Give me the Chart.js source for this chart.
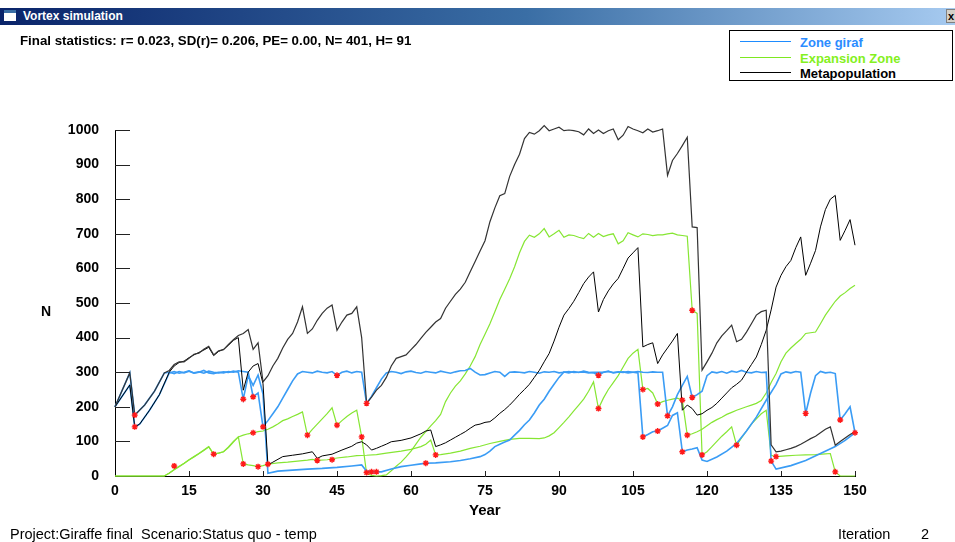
<!DOCTYPE html>
<html><head><meta charset="utf-8">
<script src="https://cdn.jsdelivr.net/npm/chart.js@4/dist/chart.umd.min.js"></script>
<style>
html,body{margin:0;padding:0;background:#fff;}
#wrap{position:relative;width:955px;height:542px;overflow:hidden;background:#fff;font-family:"Liberation Sans",Arial,sans-serif;}
canvas{position:absolute;left:0;top:0;}
.t{position:absolute;white-space:nowrap;line-height:1;}
#bar{position:absolute;left:0;top:8px;width:955px;height:17px;background:linear-gradient(to right,#0a246a 0%,#3a6ea5 55%,#a6caf0 100%);}
#icon{position:absolute;left:4px;top:10px;width:12px;height:11px;background:#fff;border-top:3px solid #3a6ea5;box-sizing:border-box;}
#close{position:absolute;left:946px;top:9px;width:12px;height:14px;background:#d4d0c8;border:1px solid #808080;box-sizing:border-box;font:bold 11px "Liberation Sans",Arial;color:#000;text-align:left;padding-left:1px;line-height:12px;}
#legend{position:absolute;left:729px;top:30px;width:224px;height:51px;border:1px solid #000;box-sizing:border-box;background:#fff;}
.ll{position:absolute;height:0;left:10px;width:51px;border-top:1px solid;}
.lt{position:absolute;left:70px;font:bold 13px "Liberation Sans",Arial;line-height:1;white-space:nowrap;}
</style></head>
<body><div id="wrap">
<canvas id="c" width="955" height="542"></canvas>
<div id="bar"></div><div id="icon"></div>
<div class="t" style="left:23px;top:10px;font:bold 12px 'Liberation Sans',Arial;color:#fff;line-height:1;">Vortex simulation</div>
<div id="close">x</div>
<div class="t" style="left:20px;top:34px;font:bold 13.3px 'Liberation Sans',Arial;color:#000;line-height:1;">Final statistics: r= 0.023, SD(r)= 0.206, PE= 0.00, N= 401, H= 91</div>
<div id="legend">
  <div class="ll" style="top:10px;border-color:#1e8cff;"></div>
  <div class="lt" style="top:5px;color:#2b8cff;">Zone giraf</div>
  <div class="ll" style="top:26px;border-color:#7ee820;"></div>
  <div class="lt" style="top:21px;color:#84f020;">Expansion Zone</div>
  <div class="ll" style="top:41px;border-color:#000;"></div>
  <div class="lt" style="top:36px;color:#000;">Metapopulation</div>
</div>
<div class="t" style="left:41px;top:303px;font:bold 14px 'Liberation Sans',Arial;">N</div>
<div class="t" style="left:469px;top:501px;font:bold 15px 'Liberation Sans',Arial;">Year</div>
<div class="t" style="left:10px;top:526px;font:14.5px 'Liberation Sans',Arial;">Project:Giraffe final&nbsp; Scenario:Status quo - temp</div>
<div class="t" style="left:838px;top:526px;font:14.5px 'Liberation Sans',Arial;">Iteration</div>
<div class="t" style="left:921px;top:526px;font:14.5px 'Liberation Sans',Arial;">2</div>
</div>
<script>
// ---- data (year, N) ----
const xTicks = [0,15,30,45,60,75,90,105,120,135,150];
const yTicks = [0,100,200,300,400,500,600,700,800,900,1000];

const metaA = [[0,200],[3,298],[4,176],[6,205],[8,245],[10,298],[11,305],[12,322],[13,330],[14,330],[15,340],[16,352],[17,355],[18,366],[19,375],[20,350],[21,362],[22,365],[23,380],[24,394],[25,406],[26,412],[27,423],[28,366],[29,385],[30,272],[31,290],[32,318],[33,340],[34,370],[35,395],[36,412],[37,445],[38,489],[39,412],[40,425],[41,450],[42,470],[43,485],[44,494],[45,421],[46,445],[47,465],[48,470],[49,489],[50,400],[51,210],[52,228],[53,248],[54,262],[55,285],[56,318],[57,340],[58,345],[59,350],[60,365],[61,380],[62,398],[63,415],[64,430],[65,445],[66,455],[67,485],[68,505],[69,525],[70,540],[71,560],[72,590],[73,620],[74,650],[75,680],[76,735],[77,775],[78,810],[79,816],[80,866],[81,900],[82,930],[83,975],[84,993],[85,988],[86,998],[87,1013],[88,998],[89,1003],[90,1008],[91,998],[92,1000],[93,998],[94,995],[95,986],[96,1003],[97,990],[98,1000],[99,990],[100,998],[101,1003],[102,972],[103,985],[104,1010],[105,1003],[106,998],[107,992],[108,1003],[109,994],[110,998],[111,1003],[112,869],[113,912],[114,932],[115,955],[116,979],[117,720],[118,718],[119,306],[120,330],[121,355],[122,385],[123,405],[124,420],[125,436],[126,388],[127,395],[128,416],[129,440],[130,465],[131,475],[132,479],[133,90],[134,70],[135,72],[136,76],[137,80],[138,85],[139,92],[140,100],[141,108],[142,115],[143,125],[144,135],[145,142],[146,89],[147,100],[148,110],[149,120],[150,128]];

const metaB = [[0,200],[3,263],[4,142],[5,150],[7,190],[9,235],[11,300],[12,318],[13,328],[14,332],[15,342],[16,350],[17,357],[18,364],[19,372],[20,348],[21,360],[22,366],[23,378],[24,392],[25,400],[26,248],[27,300],[28,318],[29,325],[30,267],[31,32],[32,40],[34,56],[36,60],[38,64],[40,70],[41,51],[42,58],[44,63],[46,75],[48,86],[49,95],[50,99],[51,90],[52,75],[53,80],[54,86],[55,92],[56,99],[58,103],[60,110],[62,122],[63,130],[64,133],[65,85],[66,90],[67,96],[68,104],[69,112],[70,120],[71,128],[72,138],[73,147],[74,150],[75,155],[76,157],[77,168],[78,181],[79,192],[80,205],[81,220],[82,236],[83,250],[84,265],[85,285],[86,305],[87,330],[88,354],[89,390],[90,430],[91,465],[92,484],[93,505],[94,530],[95,556],[96,575],[97,590],[98,474],[99,510],[100,535],[101,555],[102,571],[103,600],[104,630],[105,645],[106,660],[107,373],[108,380],[109,385],[110,325],[111,350],[112,370],[113,390],[114,412],[115,190],[116,205],[117,195],[118,176],[119,180],[120,190],[121,198],[122,210],[123,225],[124,240],[125,255],[126,265],[127,277],[128,300],[129,322],[130,344],[131,380],[132,421],[133,480],[134,546],[135,580],[136,605],[137,623],[138,660],[139,691],[140,580],[141,615],[142,652],[143,720],[144,770],[145,800],[146,811],[147,681],[148,710],[149,741],[150,667]];

const zoneA = [[0,200],[3,298],[4,176],[6,205],[8,245],[10,298],[11,300],[12,296],[13,302],[14,298],[15,303],[16,297],[17,300],[18,305],[19,298],[20,296],[21,300],[22,298],[23,302],[24,300],[25,304],[26,302],[27,300],[28,229],[29,240],[30,142],[31,160],[32,180],[33,200],[34,225],[35,250],[36,275],[37,295],[38,302],[39,300],[40,298],[41,303],[42,300],[43,298],[44,302],[45,291],[46,300],[47,303],[48,298],[49,302],[50,300],[51,210],[52,230],[53,255],[54,280],[55,298],[56,302],[57,300],[58,296],[59,301],[60,303],[61,299],[62,297],[63,302],[64,300],[65,298],[66,303],[67,300],[68,297],[69,301],[70,304],[71,305],[72,311],[73,300],[74,292],[75,293],[76,298],[77,302],[78,300],[79,288],[80,300],[81,301],[82,300],[83,298],[84,302],[85,300],[86,297],[87,301],[88,300],[89,302],[90,298],[91,300],[92,302],[93,299],[94,300],[95,301],[96,298],[97,300],[98,300],[99,300],[100,302],[101,299],[102,300],[103,301],[104,298],[105,300],[106,302],[107,300],[108,299],[109,301],[110,300],[111,300],[112,174],[113,200],[114,235],[115,262],[116,288],[117,227],[118,235],[119,245],[120,290],[121,301],[122,298],[123,302],[124,297],[125,303],[126,300],[127,305],[128,300],[129,298],[130,302],[131,299],[132,300],[133,43],[134,20],[137,30],[140,45],[143,65],[146,85],[148,103],[150,125]];

const zoneB = [[0,200],[3,263],[4,142],[5,150],[7,190],[9,235],[11,298],[12,302],[13,297],[14,300],[15,304],[16,298],[17,301],[18,297],[19,303],[20,300],[21,298],[22,301],[23,299],[24,303],[25,300],[26,222],[27,290],[28,262],[29,292],[30,237],[31,8],[33,14],[36,17],[39,20],[42,22],[45,25],[48,29],[50,32],[51,14],[52,12],[53,12],[54,12],[56,20],[58,27],[60,31],[62,35],[63,37],[65,38],[68,41],[70,45],[72,50],[74,56],[75,62],[76,72],[77,85],[78,92],[79,98],[80,104],[81,118],[82,132],[83,148],[84,162],[85,182],[86,205],[87,222],[88,245],[89,265],[90,285],[91,301],[92,298],[93,302],[94,299],[95,303],[96,300],[97,298],[98,291],[99,300],[100,303],[101,298],[102,301],[103,299],[104,302],[105,300],[106,298],[107,113],[108,120],[109,128],[110,130],[111,138],[112,146],[113,175],[114,183],[115,70],[116,75],[117,78],[118,82],[119,46],[120,42],[122,55],[124,72],[126,94],[128,130],[130,170],[132,219],[134,265],[135,295],[136,301],[137,298],[138,302],[139,300],[140,181],[141,240],[142,290],[143,302],[144,298],[145,300],[146,296],[147,162],[148,180],[149,200],[150,125]];

const expA = [[0,0],[10,0],[11,9],[12,19],[13,28],[14,37],[15,47],[16,56],[17,65],[18,75],[19,85],[20,63],[21,66],[22,70],[23,82],[24,98],[25,113],[26,118],[27,122],[28,125],[29,128],[30,130],[31,135],[32,142],[33,150],[34,160],[35,165],[36,172],[37,178],[38,185],[39,118],[40,135],[41,150],[42,165],[43,180],[44,197],[45,147],[46,160],[47,172],[48,182],[49,190],[50,113],[51,8],[52,2],[53,0],[54,1],[55,3],[56,15],[57,28],[58,40],[59,55],[60,72],[61,92],[62,112],[63,128],[64,145],[65,160],[66,178],[67,215],[68,240],[69,260],[70,275],[71,295],[72,318],[73,345],[74,380],[75,410],[76,440],[77,475],[78,510],[79,540],[80,570],[81,605],[82,645],[83,678],[84,696],[85,690],[86,700],[87,715],[88,691],[89,700],[90,710],[91,690],[92,697],[93,695],[94,690],[95,686],[96,701],[97,690],[98,701],[99,692],[100,697],[101,700],[102,671],[103,680],[104,703],[105,697],[106,691],[107,700],[108,698],[109,695],[110,697],[111,697],[112,700],[113,702],[114,697],[115,695],[116,693],[117,479],[118,470],[119,61],[120,70],[121,85],[122,100],[123,115],[124,128],[125,142],[126,89],[127,110],[128,130],[129,150],[130,165],[131,180],[132,190],[133,60],[134,56],[136,58],[138,60],[140,61],[142,62],[144,64],[145,65],[146,12],[147,0],[150,0]];

const expB = [[0,0],[10,0],[11,8],[12,18],[13,27],[14,36],[15,46],[16,55],[17,64],[18,74],[19,84],[20,63],[21,66],[22,70],[23,84],[24,100],[25,113],[26,35],[27,32],[28,30],[29,27],[30,30],[31,34],[33,38],[35,40],[37,43],[39,46],[40,48],[41,45],[43,47],[45,52],[47,55],[49,59],[51,60],[53,62],[55,66],[58,72],[60,77],[62,85],[63,92],[64,104],[65,61],[66,62],[68,66],[70,72],[72,80],[74,86],[76,94],[78,100],[80,106],[82,109],[84,109],[86,108],[87,110],[88,116],[89,125],[90,140],[91,155],[92,171],[93,188],[94,205],[95,222],[96,245],[97,272],[98,195],[99,225],[100,250],[101,270],[102,290],[103,315],[104,340],[105,355],[106,366],[107,250],[108,253],[109,240],[110,208],[111,215],[112,219],[113,222],[114,225],[115,219],[116,118],[117,122],[118,128],[119,135],[120,145],[121,155],[122,163],[123,170],[124,178],[125,184],[126,190],[127,195],[128,200],[129,205],[130,210],[131,218],[132,240],[133,270],[134,296],[135,330],[136,355],[137,370],[138,383],[139,395],[140,412],[141,414],[142,416],[143,440],[144,465],[145,485],[146,505],[147,520],[148,530],[149,542],[150,551]];

const harvests = [[4,176],[4,142],[12,29],[20,63],[26,222],[26,35],[28,229],[28,125],[29,27],[30,142],[31,34],[39,118],[41,45],[44,47],[45,291],[45,147],[50,113],[51,210],[51,10],[52,12],[53,12],[63,37],[65,61],[98,291],[98,195],[107,250],[107,113],[110,130],[110,208],[112,174],[115,219],[115,70],[116,118],[117,479],[117,227],[119,61],[126,89],[133,43],[134,56],[140,181],[146,12],[147,162],[150,125]];

const BLUE='#3a9cf5', GREEN='#86e633';
const xy = a => a.map(p => ({x:p[0], y:p[1]}));
const line = (data,color,w) => ({data:xy(data),borderColor:color,borderWidth:w,pointRadius:0,tension:0,fill:false,clip:false});

const tickMarks = {
  id:'tickMarks',
  afterDraw(chart){
    const c=chart.ctx, a=chart.chartArea, xs=chart.scales.x, ys=chart.scales.y;
    c.save(); c.strokeStyle='#222'; c.lineWidth=1; c.beginPath();
    yTicks.forEach(v=>{ if(v===0) return; const y=Math.round(ys.getPixelForValue(v))+0.5; c.moveTo(a.left,y); c.lineTo(a.left+15,y); });
    xTicks.forEach(v=>{ if(v===0) return; const x=Math.round(xs.getPixelForValue(v))+0.5; c.moveTo(x,a.bottom); c.lineTo(x,a.bottom-5); });
    c.stroke(); c.restore();
  }
};

const font = {family:"'Liberation Sans', Arial, sans-serif", size:14, weight:'bold'};
new Chart(document.getElementById('c'), {
  type:'line',
  data:{datasets:[
    {data:xy(harvests),showLine:false,pointStyle:'star',pointRadius:3,pointBorderColor:'#ff1a1a',pointBackgroundColor:'#ff1a1a',pointBorderWidth:1.4,borderColor:'#ff1a1a',clip:false},
    line(metaA,'#333333',1.2),
    line(metaB,'#000000',1),
    line(zoneA,BLUE,1.6),
    line(zoneB,BLUE,1.6),
    line(expA,GREEN,1.2),
    line(expB,GREEN,1.2)
  ]},
  options:{
    responsive:false, animation:false,
    layout:{padding:{left:0,right:100,top:130,bottom:26}},
    plugins:{legend:{display:false},tooltip:{enabled:false}},
    scales:{
      x:{type:'linear',min:0,max:150,
        afterBuildTicks(s){ s.ticks = xTicks.map(v=>({value:v})); },
        ticks:{font,color:'#000',padding:7,maxRotation:0,autoSkip:false,callback:v=>String(v)},
        grid:{drawOnChartArea:false,drawTicks:false},
        border:{display:true,color:'#000',width:1},
        afterFit(s){ s.height=40; }},
      y:{min:0,max:1000,
        afterBuildTicks(s){ s.ticks = yTicks.map(v=>({value:v})); },
        ticks:{font,color:'#000',padding:16,callback:v=>String(v)},
        grid:{drawOnChartArea:false,drawTicks:false},
        border:{display:true,color:'#000',width:1},
        afterFit(s){ s.width=115; }}
    }
  },
  plugins:[tickMarks]
});
</script>
</body></html>
